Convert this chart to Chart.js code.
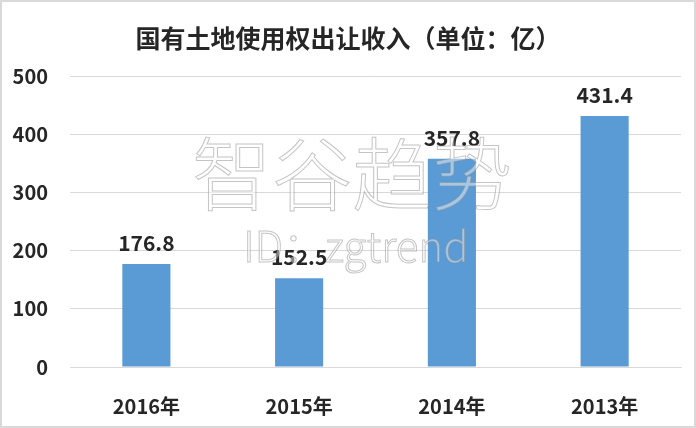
<!DOCTYPE html>
<html>
<head>
<meta charset="utf-8">
<script src="https://cdn.jsdelivr.net/npm/chart.js@4"></script>
<style>
  html, body { margin: 0; padding: 0; background: #fff; }
  #wrap { width: 692px; height: 424px; border: 2px solid #d9d9d9; position: relative; }
</style>
</head>
<body>
<div id="wrap"><canvas id="landChart" width="692" height="424"></canvas></div>
<script>
const titleText = '国有土地使用权出让收入（单位：亿）';
const years = ['2016年', '2015年', '2014年', '2013年'];
const income = [176.8, 152.5, 357.8, 431.4];
const yTicks = [0, 100, 200, 300, 400, 500];

const fontCJK = '"Noto Sans CJK SC", "Noto Sans", sans-serif';

// title, value labels and the watermark on top
const extras = {
    id: 'extras',
    afterDatasetsDraw(chart) {
        const c = chart.ctx;
        c.save();
        c.textAlign = 'center';
        c.textBaseline = 'middle';
        c.fillStyle = '#262626';
        c.font = 'bold 25px ' + fontCJK;
        c.fillText(titleText, 346, 36);
        c.font = 'bold 21px ' + fontCJK;
        chart.getDatasetMeta(0).data.forEach(function(bar, i) {
            c.fillText(income[i].toFixed(1), bar.x, bar.y - 21);
        });

        c.font = '300 80px ' + fontCJK;
        c.lineWidth = 1;
        c.strokeStyle = 'rgba(140,140,140,0.5)';
        c.fillStyle = 'rgba(255,255,255,0.45)';
        c.fillText('智谷趋势', 350, 172);
        c.strokeText('智谷趋势', 350, 172);
        c.font = '300 42px ' + fontCJK;
        c.fillText('ID：zgtrend', 354, 244);
        c.strokeText('ID：zgtrend', 354, 244);
        c.restore();
    }
};

new Chart(document.getElementById('landChart').getContext('2d'), {
    type: 'bar',
    data: {
        labels: years,
        datasets: [{
            data: income,
            backgroundColor: '#5B9BD5',
            categoryPercentage: 1,
            barPercentage: 0.315
        }]
    },
    options: {
        responsive: false,
        animation: false,
        layout: { padding: { top: 74, right: 13, bottom: 0, left: 0 } },
        plugins: { legend: { display: false }, tooltip: { enabled: false } },
        scales: {
            x: {
                grid: { display: false },
                border: { color: '#d9d9d9', width: 1 },
                ticks: { color: '#262626', font: { family: fontCJK, size: 20, weight: 'bold' }, padding: 19 },
                afterFit(scale) { scale.height = 59; }
            },
            y: {
                min: 0,
                max: 500,
                afterBuildTicks(scale) { scale.ticks = yTicks.map(v => ({ value: v })); },
                grid: { color: '#d9d9d9', drawTicks: false },
                border: { display: false },
                ticks: { color: '#262626', font: { family: fontCJK, size: 20, weight: 'bold' }, padding: 22 },
                afterFit(scale) { scale.width = 68; }
            }
        }
    },
    plugins: [extras]
});
</script>
</body>
</html>
